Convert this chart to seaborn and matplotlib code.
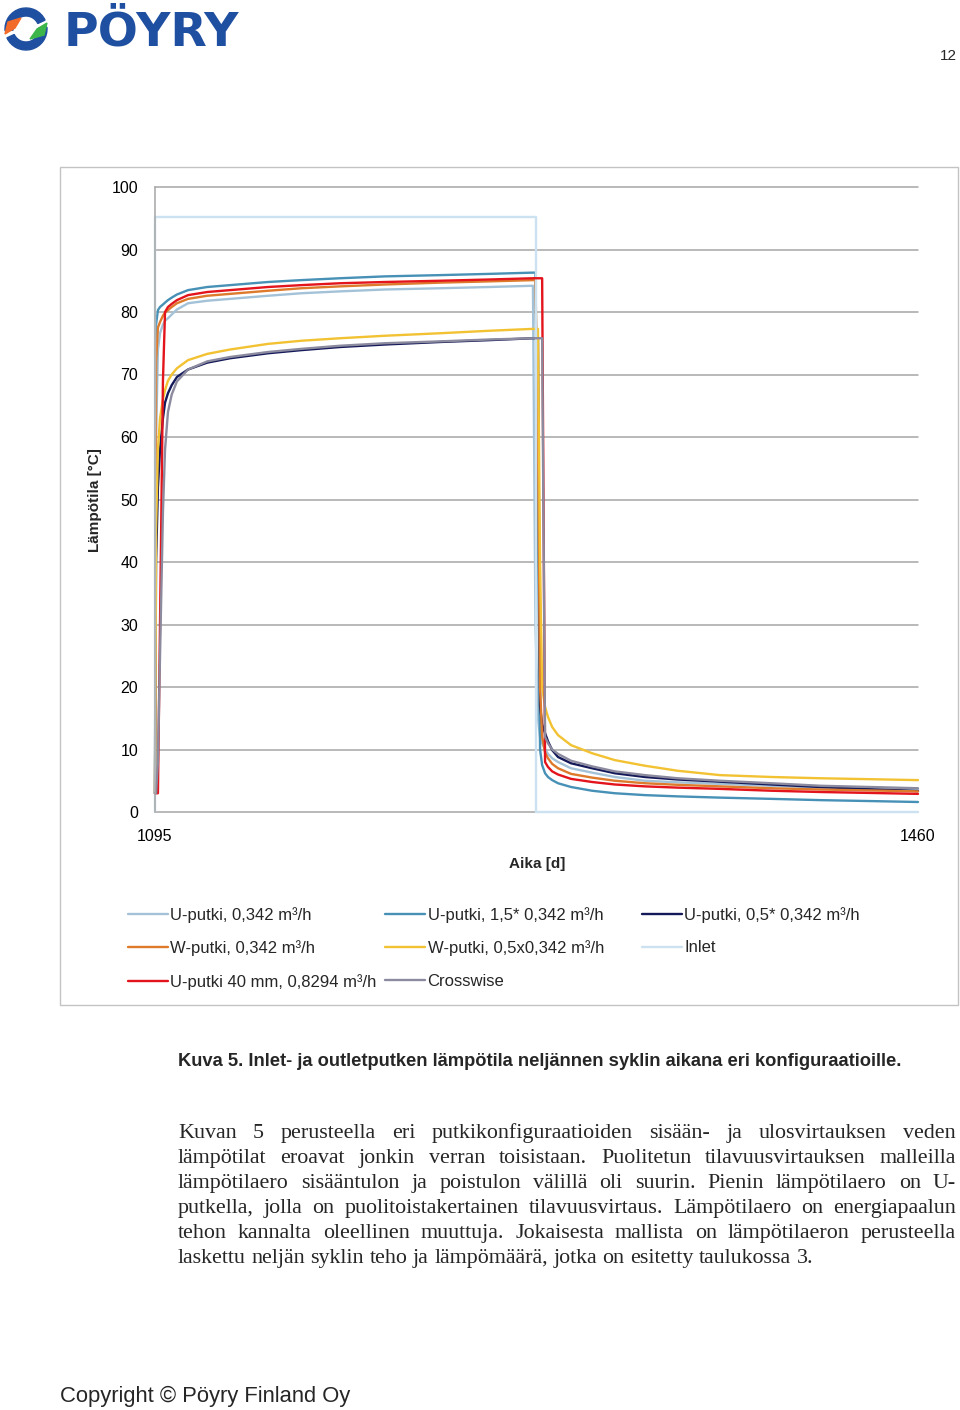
import matplotlib
matplotlib.use("Agg")
import pandas as pd
import matplotlib.pyplot as plt
import seaborn as sns
from matplotlib.patches import Rectangle, Wedge, Polygon

# ------------------------------------------ données ------------------------------------------
DAYS = [1095, 1095.5, 1096.4, 1097.4, 1098.8, 1099.8, 1101.2, 1103.0, 1105.5, 1110.8,
        1120, 1130.9, 1149.1, 1165, 1183.5, 1205, 1231.3, 1255, 1275.8, 1277.0,
        1278.2, 1279.2, 1280.2, 1281.6, 1283.0, 1285.0, 1287.8, 1294, 1304.1, 1315,
        1329.4, 1345, 1365.3, 1390, 1413.1, 1437, 1460]

U_0342 = [3, 60, 74, 76.6, 78.0, 78.6, 79.0, 79.6, 80.4, 81.4,
          81.8, 82.1, 82.6, 83.0, 83.3, 83.6, 83.8, 84.0, 84.2, 30,
          15, 12, 11, 10, 9.3, 8.6, 8.0, 7.0, 6.3, 5.6,
          5.0, 4.75, 4.5, 4.2, 3.9, 3.75, 3.6]
U_15 = [3, 78, 80.3, 80.8, 81.2, 81.5, 81.9, 82.3, 82.8, 83.5,
        84.0, 84.3, 84.8, 85.1, 85.4, 85.7, 85.9, 86.1, 86.3, 86.3,
        45, 10, 7.5, 6.2, 5.6, 5.1, 4.6, 4.0, 3.4, 3.0,
        2.7, 2.5, 2.3, 2.1, 1.9, 1.75, 1.6]
U_05 = [3, 40, 52, 58, 63, 65.5, 67, 68.3, 69.6, 70.8,
        71.9, 72.6, 73.4, 73.9, 74.4, 74.8, 75.2, 75.5, 75.8, 75.8,
        75.8, 17, 14, 12.6, 11.3, 9.9, 8.8, 7.8, 7.0, 6.2,
        5.6, 5.2, 4.85, 4.4, 4.0, 3.65, 3.35]
W_0342 = [3, 72, 77.5, 78.4, 79.4, 79.9, 80.3, 80.8, 81.4, 82.1,
          82.6, 82.9, 83.4, 83.8, 84.1, 84.4, 84.7, 84.9, 85.1, 85.1,
          60, 20, 12, 9.5, 8.6, 7.7, 7.0, 6.1, 5.5, 5.0,
          4.6, 4.35, 4.1, 3.8, 3.6, 3.45, 3.3]
W_05 = [3, 45, 58, 63, 66, 67.5, 69, 70.0, 71.0, 72.3,
        73.3, 74.0, 74.9, 75.4, 75.8, 76.2, 76.6, 77.0, 77.3, 77.3,
        77.3, 40, 20, 16.8, 15.2, 13.6, 12.3, 10.7, 9.4, 8.3,
        7.4, 6.6, 5.9, 5.6, 5.4, 5.25, 5.1]
U_40MM = [3, 3, 3, 30, 69, 80, 80.8, 81.3, 81.9, 82.7,
          83.2, 83.5, 84.0, 84.3, 84.6, 84.8, 85.0, 85.2, 85.4, 85.4,
          85.4, 85.4, 85.4, 8.0, 7.2, 6.5, 6.0, 5.3, 4.8, 4.4,
          4.1, 3.9, 3.7, 3.4, 3.2, 3.05, 2.9]
CROSS = [3, 3, 8, 25, 48, 58, 64, 66.8, 68.9, 70.8,
         72.1, 72.8, 73.6, 74.1, 74.6, 75.0, 75.3, 75.6, 75.8, 75.8,
         75.8, 75.8, 75.8, 12, 11.0, 10.0, 9.3, 8.2, 7.3, 6.5,
         5.9, 5.4, 5.0, 4.6, 4.2, 4.0, 3.8]

INLET_DAYS = [1095, 1095, 1277.2, 1277.2, 1460]
INLET = [0, 95.2, 95.2, 0, 0]

SERIES = ["U-putki, 0,342 m³/h", "U-putki, 1,5* 0,342 m³/h", "U-putki, 0,5* 0,342 m³/h",
          "W-putki, 0,342 m³/h", "W-putki, 0,5x0,342 m³/h", "Inlet",
          "U-putki 40 mm, 0,8294 m³/h", "Crosswise"]
COLORS = ["#a3c2d8", "#4790b6", "#14195a", "#dd7a2c", "#f2c232", "#cde2f1",
          "#e3141b", "#8b8a9e"]

Y_TICKS = list(range(0, 101, 10))
X_TICKS = [1095, 1460]

BODY = [
    "Kuvan 5 perusteella eri putkikonfiguraatioiden sisään- ja ulosvirtauksen veden",
    "lämpötilat eroavat jonkin verran toisistaan. Puolitetun tilavuusvirtauksen malleilla",
    "lämpötilaero sisääntulon ja poistulon välillä oli suurin. Pienin lämpötilaero on U-",
    "putkella, jolla on puolitoistakertainen tilavuusvirtaus. Lämpötilaero on energiapaalun",
    "tehon kannalta oleellinen muuttuja. Jokaisesta mallista on lämpötilaeron perusteella",
    "laskettu neljän syklin teho ja lämpömäärä, jotka on esitetty taulukossa 3.",
]

W, H = 960, 1410


def fx(px):
    return px / W


def fy(py):
    return 1 - py / H


def build_frame():
    values = [U_0342, U_15, U_05, W_0342, W_05, None, U_40MM, CROSS]
    frames = []
    for name, vals in zip(SERIES, values):
        if vals is None:
            frames.append(pd.DataFrame({"day": INLET_DAYS, "temp": INLET, "series": name}))
        else:
            frames.append(pd.DataFrame({"day": DAYS, "temp": vals, "series": name}))
    return pd.concat(frames, ignore_index=True)


def justify(fig, lines, x0, x1, y0, dy, **kw):
    renderer = fig.canvas.get_renderer()
    a = fig.text(0, 0, "x x", **kw)
    b = fig.text(0, 0, "xx", **kw)
    space = a.get_window_extent(renderer).width - b.get_window_extent(renderer).width
    a.remove()
    b.remove()
    for i, line in enumerate(lines):
        words = line.split()
        texts = [fig.text(0, 0, w, va="baseline", ha="left", **kw) for w in words]
        widths = [t.get_window_extent(renderer).width for t in texts]
        if i == len(lines) - 1:
            gap = space
        else:
            gap = (x1 - x0 - sum(widths)) / (len(words) - 1)
        x = x0
        for t, w in zip(texts, widths):
            t.set_position((fx(x), fy(y0 + i * dy)))
            x += w + gap


sns.set_style("white")
plt.rcParams["font.family"] = ["Liberation Sans", "DejaVu Sans"]

fig = plt.figure(figsize=(9.6, 14.1), dpi=100)
ax = fig.add_axes([fx(155), fy(812), fx(918) - fx(155), fy(187) - fy(812)])

df = build_frame()
sns.lineplot(data=df, x="day", y="temp", hue="series", hue_order=SERIES,
             palette=COLORS, estimator=None, sort=False, linewidth=1.7,
             legend=False, ax=ax)
for ln in ax.lines:
    ln.set_clip_on(False)
    ln.set_solid_joinstyle("round")

ax.set_xlim(1095, 1460)
ax.set_ylim(0, 100)
ax.set_yticks(Y_TICKS)
ax.set_xticks(X_TICKS)
ax.set_xlabel("")
ax.set_ylabel("")
ax.grid(axis="y", color="#a6a6a6", linewidth=1.1)
ax.grid(axis="x", visible=False)
ax.set_axisbelow(True)
for gl in ax.get_ygridlines():
    gl.set_clip_on(False)
for s in ["top", "right", "bottom"]:
    ax.spines[s].set_visible(False)
ax.spines["left"].set_color("#a6a6a6")
ax.spines["left"].set_linewidth(1.1)
ax.tick_params(length=0, labelsize=11.5, colors="black")
ax.tick_params(axis="y", pad=12)
ax.tick_params(axis="x", pad=12)

fig.text(fx(95), fy(500), "Lämpötila [°C]", rotation=90, ha="center", va="center",
         fontsize=11, fontweight="bold")
fig.text(fx(537), fy(864), "Aika [d]", ha="center", va="center",
         fontsize=11, fontweight="bold")

# legende en trois colonnes comme dans Excel
lines_by_name = dict(zip(SERIES, ax.lines[:len(SERIES)]))
columns = [
    (128, [SERIES[0], SERIES[3], SERIES[6]]),
    (385, [SERIES[1], SERIES[4], SERIES[7]]),
    (642, [SERIES[2], SERIES[5]]),
]
for xpos, names in columns:
    leg = fig.legend([lines_by_name[n] for n in names], names, loc="upper left",
                     bbox_to_anchor=(fx(xpos), fy(907)), frameon=False,
                     fontsize=12, handlelength=2.4, handletextpad=0.15,
                     labelspacing=1.05, borderpad=0, borderaxespad=0)
    for h in leg.legend_handles:
        h.set_linewidth(1.7)

# cadre du graphique
fig.add_artist(Rectangle((fx(60), fy(1005)), fx(958) - fx(60), fy(167) - fy(1005),
                         transform=fig.transFigure, fill=False, ec="#c3c3c3", lw=1.0))

# logo
lax = fig.add_axes([0, fy(56), fx(60), fy(0) - fy(56)])
lax.set_xlim(0, 60)
lax.set_ylim(0, 56)
lax.axis("off")
cx, cy = 26, 56 - 29
lax.add_patch(Wedge((cx, cy), 21, 25, 185, width=8, color="#1f4fa0"))
lax.add_patch(Wedge((cx, cy), 21, 205, 365, width=8, color="#1f4fa0"))
lax.add_patch(Polygon([(5, 56 - 34), (8, 56 - 22), (21, 56 - 18), (15, 56 - 28)],
                      color="#f26b2a"))
lax.add_patch(Polygon([(47, 56 - 23), (44, 56 - 35), (30, 56 - 39), (37, 56 - 29)],
                      color="#3cb54a"))
fig.text(fx(64), fy(45), "PÖYRY", fontsize=34, fontweight="bold", color="#1f4fa0",
         family="DejaVu Sans", va="baseline", ha="left")

fig.text(fx(957), fy(56), "12", ha="right", va="center", fontsize=11)

fig.text(fx(178), fy(1066), "Kuva 5. Inlet- ja outletputken lämpötila neljännen syklin aikana eri konfiguraatioille.",
         ha="left", va="baseline", fontsize=13.2, fontweight="bold")

justify(fig, BODY, 178, 956, 1138, 25, fontsize=15.85, family="Liberation Serif")

fig.text(fx(60), fy(1402), "Copyright © Pöyry Finland Oy", ha="left", va="baseline",
         fontsize=15.8)

fig.savefig("out.png", dpi=100)
